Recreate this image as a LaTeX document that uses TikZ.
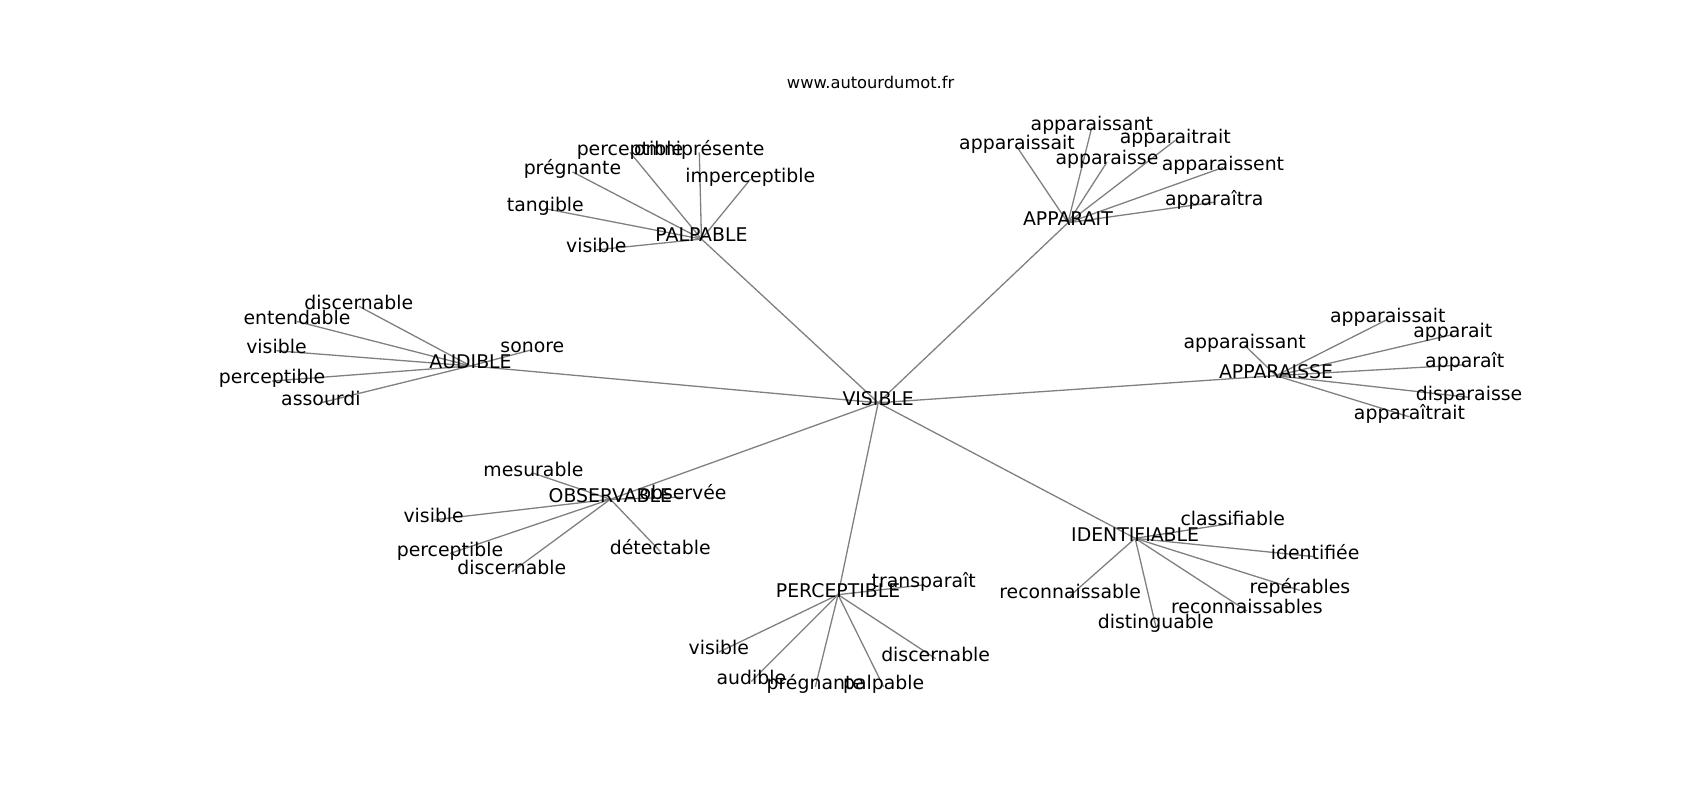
\documentclass[tikz,border=0pt]{standalone}
\usepackage{fontspec}
\setmainfont{DejaVu Sans}
\usetikzlibrary{backgrounds}
\tikzset{
  lbl/.style={inner sep=0pt, text height=0.76em, text depth=0.24em, font=\fontsize{17.4}{20}\selectfont, text=black, yshift=-2.5pt},
  ttl/.style={inner sep=0pt, font=\fontsize{15}{18}\selectfont, text=black},
  edge/.style={draw=black!50, line width=1.2pt}
}
\begin{document}
\begin{tikzpicture}[x=1pt,y=-1pt]
\path[use as bounding box] (0,0) rectangle (1568,738);
\node[ttl] (title) at (803,76) {www.autourdumot.fr};
% hubs
\node[lbl] (vis) at (810,369) {VISIBLE};
\node[lbl] (pal) at (647,218) {PALPABLE};
\node[lbl] (app) at (985,203) {APPARAIT};
\node[lbl] (aud) at (434,335) {AUDIBLE};
\node[lbl] (aps) at (1177,344) {APPARAISSE};
\node[lbl] (obs) at (563,458) {OBSERVABLE};
\node[lbl] (per) at (773,546) {PERCEPTIBLE};
\node[lbl] (ide) at (1047,494) {IDENTIFIABLE};
% PALPABLE
\node[lbl] (pal1) at (581,138) {perceptible};
\node[lbl] (pal2) at (645,138) {omniprésente};
\node[lbl] (pal3) at (528,156) {prégnante};
\node[lbl] (pal4) at (503,190) {tangible};
\node[lbl] (pal5) at (550,228) {visible};
\node[lbl] (pal6) at (692,163) {imperceptible};
% APPARAIT
\node[lbl] (app1) at (1007,115) {apparaissant};
\node[lbl] (app2) at (938,133) {apparaissait};
\node[lbl] (app3) at (1084,127) {apparaitrait};
\node[lbl] (app4) at (1021,147) {apparaisse};
\node[lbl] (app5) at (1128,152) {apparaissent};
\node[lbl] (app6) at (1120,184) {apparaîtra};
% AUDIBLE
\node[lbl] (aud1) at (331,280) {discernable};
\node[lbl] (aud2) at (274,294) {entendable};
\node[lbl] (aud3) at (255,321) {visible};
\node[lbl] (aud4) at (251,349) {perceptible};
\node[lbl] (aud5) at (296,369) {assourdi};
\node[lbl] (aud6) at (491,320) {sonore};
% APPARAISSE
\node[lbl] (aps1) at (1148,316) {apparaissant};
\node[lbl] (aps2) at (1280,292) {apparaissait};
\node[lbl] (aps3) at (1340,306) {apparait};
\node[lbl] (aps4) at (1351,334) {apparaît};
\node[lbl] (aps5) at (1355,364) {disparaisse};
\node[lbl] (aps6) at (1300,382) {apparaîtrait};
% OBSERVABLE
\node[lbl] (obs1) at (492,434) {mesurable};
\node[lbl] (obs2) at (630,456) {observée};
\node[lbl] (obs3) at (400,477) {visible};
\node[lbl] (obs4) at (415,508) {perceptible};
\node[lbl] (obs5) at (472,525) {discernable};
\node[lbl] (obs6) at (609,506) {détectable};
% PERCEPTIBLE
\node[lbl] (per1) at (852,537) {transparaît};
\node[lbl] (per2) at (663,599) {visible};
\node[lbl] (per3) at (693,626) {audible};
\node[lbl] (per4) at (752,631) {prégnante};
\node[lbl] (per5) at (815,631) {palpable};
\node[lbl] (per6) at (863,605) {discernable};
% IDENTIFIABLE
\node[lbl] (ide1) at (1137,480) {classifiable};
\node[lbl] (ide2) at (1213,511) {identifiée};
\node[lbl] (ide3) at (1199,542) {repérables};
\node[lbl] (ide4) at (1150,561) {reconnaissables};
\node[lbl] (ide5) at (987,547) {reconnaissable};
\node[lbl] (ide6) at (1066,575) {distinguable};
\begin{scope}[on background layer]
\foreach \h in {pal,app,aud,aps,obs,per,ide}{
  \draw[edge] (vis.center) -- (\h.center);
  \foreach \i in {1,...,6}{
    \draw[edge] (\h.center) -- (\h\i.center);
  }
}
\end{scope}
\end{tikzpicture}
\end{document}
